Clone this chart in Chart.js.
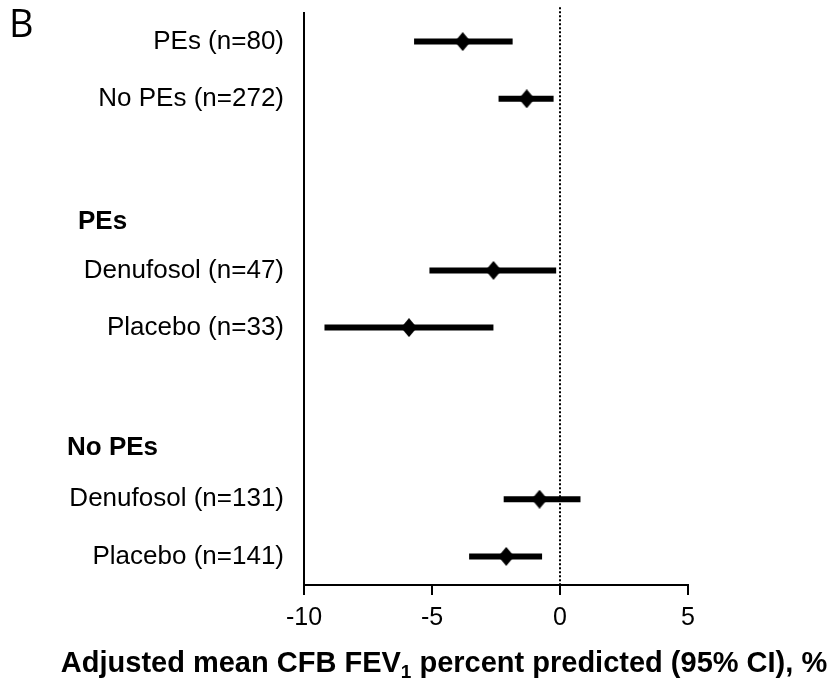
<!DOCTYPE html>
<html>
<head>
<meta charset="utf-8">
<script src="https://cdn.jsdelivr.net/npm/chart.js@4.4.1/dist/chart.umd.min.js"></script>
<style>
  body { margin: 0; background: #fff; }
</style>
</head>
<body>
<canvas id="myChart" width="836" height="683"></canvas>
<script>
// rows of the forest plot, 0 = top row
const rowLabels = ["PEs (n=80)", "No PEs (n=272)", "Denufosol (n=47)", "Placebo (n=33)", "Denufosol (n=131)", "Placebo (n=141)"];
const rowPos = [0, 1, 4, 5, 8, 9];
const means = [-3.8, -1.3, -2.6, -5.9, -0.8, -2.1];
const lower = [-5.7, -2.4, -5.1, -9.2, -2.2, -3.55];
const upper = [-1.85, -0.25, -0.15, -2.6, 0.8, -0.7];
const groupLabels = ["PEs", "No PEs"];
const groupPos = [3.15, 7.1];
const xTicks = [-10, -5, 0, 5];

// diamond marker
const diamond = document.createElement("canvas");
diamond.width = 16;
diamond.height = 19;
const dctx = diamond.getContext("2d");
dctx.fillStyle = "#000";
dctx.beginPath();
dctx.moveTo(8, 0);
dctx.lineTo(16, 9.5);
dctx.lineTo(8, 19);
dctx.lineTo(0, 9.5);
dctx.closePath();
dctx.fill();

const ciSets = rowPos.map((r, i) => ({
  data: [{ x: lower[i], y: r }, { x: upper[i], y: r }],
  showLine: true,
  borderColor: "#000",
  borderWidth: 6,
  borderCapStyle: "butt",
  pointRadius: 0,
}));

const extraText = {
  id: "extraText",
  afterDraw(chart) {
    const c = chart.ctx;
    const ys = chart.scales.y;
    c.save();
    c.fillStyle = "#000";

    // group headers
    const headerX = [78, 67];
    c.font = "bold 26px 'Liberation Sans'";
    c.textAlign = "left";
    c.textBaseline = "middle";
    groupLabels.forEach((g, i) => c.fillText(g, headerX[i], ys.getPixelForValue(groupPos[i])));

    // panel letter
    c.font = "38px 'Open Sans'";
    c.textBaseline = "alphabetic";
    c.fillText("B", 9, 37);

    // x axis title with subscript
    const big = "bold 29px 'Liberation Sans'";
    const small = "bold 19px 'Liberation Sans'";
    const p1 = "Adjusted mean CFB FEV", p2 = "1", p3 = " percent predicted (95% CI), %";
    c.font = big;
    const w1 = c.measureText(p1).width, w3 = c.measureText(p3).width;
    c.font = small;
    const w2 = c.measureText(p2).width;
    let x = 444 - (w1 + w2 + w3) / 2;
    const base = 672;
    c.font = big;
    c.fillText(p1, x, base);
    x += w1;
    c.font = small;
    c.fillText(p2, x, base + 6);
    x += w2;
    c.font = big;
    c.fillText(p3, x, base);
    c.restore();
  },
};

const ctx = document.getElementById("myChart");

new Chart(ctx, {
  type: "scatter",
  data: {
    datasets: [
      {
        // dotted line at zero
        data: [{ x: 0, y: -0.6 }, { x: 0, y: 9.5 }],
        showLine: true,
        borderColor: "#000",
        borderWidth: 2,
        borderDash: [2, 2],
        pointRadius: 0,
        clip: false,
      },
      ...ciSets,
      {
        data: rowPos.map((r, i) => ({ x: means[i], y: r })),
        pointStyle: diamond,
        pointRadius: 9,
        backgroundColor: "#000",
        borderColor: "#000",
      },
    ],
  },
  options: {
    responsive: false,
    animation: false,
    devicePixelRatio: 1,
    layout: { padding: { top: 13, right: 148, left: 0, bottom: 0 } },
    plugins: {
      legend: { display: false },
      tooltip: { enabled: false },
    },
    scales: {
      x: {
        type: "linear",
        min: -10,
        max: 5,
        afterBuildTicks: (s) => {
          s.ticks = xTicks.map((v) => ({ value: v }));
        },
        afterFit: (s) => {
          s.height = 98;
          s.paddingLeft = 0;
          s.paddingRight = 0;
        },
        ticks: {
          color: "#000",
          font: { family: "Liberation Sans", size: 25 },
          padding: 8,
          maxRotation: 0,
        },
        grid: { drawOnChartArea: false, color: "#000", lineWidth: 2, tickLength: 10 },
        border: { color: "#000", width: 2 },
      },
      y: {
        type: "linear",
        reverse: true,
        min: -0.5,
        max: 9.5,
        afterBuildTicks: (s) => {
          s.ticks = rowPos.map((v) => ({ value: v }));
        },
        afterFit: (s) => {
          s.width = 304;
          s.paddingTop = 0;
          s.paddingBottom = 0;
        },
        ticks: {
          callback: (v) => rowLabels[rowPos.indexOf(v)],
          color: "#000",
          font: { family: "Liberation Sans", size: 26 },
          padding: 20,
        },
        grid: { drawOnChartArea: false, drawTicks: false },
        border: { color: "#000", width: 2 },
      },
    },
  },
  plugins: [extraText],
});
</script>
</body>
</html>
